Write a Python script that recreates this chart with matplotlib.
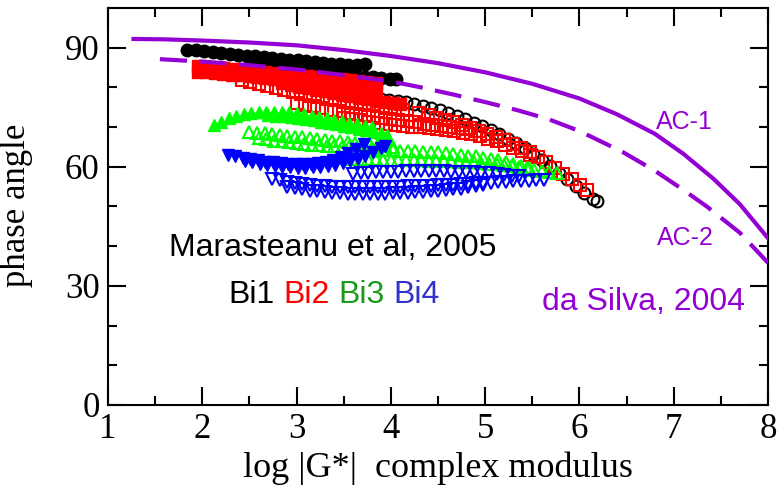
import numpy as np
import matplotlib.pyplot as plt
from matplotlib.ticker import MultipleLocator

# ---- da Silva 2004 model curves ----
ac1_x = [1.27, 1.6, 2.0, 2.5, 3.0, 3.5, 4.0, 4.5, 5.0, 5.5, 6.0, 6.4, 6.8,
         7.1, 7.42, 7.7, 8.0]
ac1_y = [92.2, 92.1, 91.8, 91.3, 90.6, 89.4, 87.9, 86.1, 83.8, 80.9, 77.2,
         73.2, 68.3, 63.3, 57.0, 50.6, 42.0]
ac2_x = [1.55, 2.0, 2.5, 3.0, 3.5, 4.0, 4.3, 4.7, 5.0, 5.35, 5.67, 6.0, 6.46,
         6.8, 7.1, 7.35, 7.7, 8.0]
ac2_y = [87.1, 86.5, 85.6, 84.5, 83.1, 81.5, 80.1, 78.0, 76.3, 74.2, 72.0,
         69.0, 63.7, 59.0, 54.2, 50.0, 43.4, 35.8]

# ---- Bi1 (black circles) ----
bi1_fa_x = [1.84, 1.93, 2.02, 2.11, 2.20, 2.29, 2.38, 2.47, 2.56, 2.65, 2.74,
            2.83, 2.92, 3.01, 3.10, 3.19, 3.28, 3.37, 3.46, 3.55, 3.64, 3.73]
bi1_fa_y = [89.5, 89.3, 89.1, 88.9, 88.6, 88.4, 88.2, 88.0, 87.8, 87.6, 87.4,
            87.2, 87.0, 86.8, 86.6, 86.4, 86.2, 86.0, 85.8, 85.7, 85.7, 85.9]
bi1_fb_x = [2.55, 2.64, 2.73, 2.82, 2.91, 3.00, 3.09, 3.18, 3.27, 3.36, 3.45,
            3.54, 3.63, 3.72, 3.81, 3.90, 3.99, 4.05]
bi1_fb_y = [86.6, 86.3, 86.0, 85.7, 85.4, 85.1, 84.8, 84.5, 84.2, 83.9, 83.6,
            83.3, 83.0, 82.7, 82.5, 82.3, 82.1, 82.0]
bi1_o_x = [3.80, 3.89, 3.98, 4.07, 4.16, 4.25, 4.34, 4.43, 4.52, 4.61, 4.70,
           4.79, 4.88, 4.97, 5.06, 5.15, 5.24, 5.33, 5.42, 5.51, 5.60, 5.69,
           5.78, 5.87, 5.96, 6.05, 6.14, 6.19]
bi1_o_y = [77.5, 77.2, 76.9, 76.6, 76.2, 75.8, 75.3, 74.8, 74.2, 73.5, 72.8,
           72.0, 71.1, 70.2, 69.2, 68.2, 67.1, 66.0, 64.7, 63.3, 61.8, 60.2,
           58.5, 56.8, 55.1, 53.4, 52.0, 51.5]

# ---- Bi2 (red squares) ----
bi2_fa_x = [1.95, 2.04, 2.13, 2.22, 2.31, 2.40, 2.49, 2.58, 2.67, 2.76, 2.85,
            2.94, 3.03, 3.12, 3.21, 3.30, 3.39, 3.48, 3.57, 3.66, 3.75, 3.84]
bi2_fa_y = [85.3, 85.2, 85.0, 84.8, 84.6, 84.4, 84.2, 84.0, 83.8, 83.6, 83.4,
            83.2, 83.0, 82.8, 82.6, 82.4, 82.2, 82.0, 81.8, 81.6, 81.4, 81.2]
bi2_fb_x = [1.95, 2.04, 2.13, 2.22, 2.31, 2.40, 2.49, 2.58, 2.67, 2.76, 2.85,
            2.94, 3.03, 3.12, 3.21, 3.30, 3.39, 3.48, 3.57, 3.66, 3.75, 3.84]
bi2_fb_y = [84.0, 83.8, 83.6, 83.4, 83.2, 83.0, 82.8, 82.5, 82.3, 82.0, 81.8,
            81.5, 81.3, 81.0, 80.8, 80.5, 80.3, 80.1, 79.9, 79.7, 79.5, 79.3]
bi2_fc_x = [2.85, 2.94, 3.03, 3.12, 3.21, 3.30, 3.39, 3.48, 3.57, 3.66, 3.75,
            3.84, 3.93, 4.02, 4.10]
bi2_fc_y = [81.0, 80.6, 80.2, 79.8, 79.4, 79.0, 78.6, 78.2, 77.8, 77.4, 77.0,
            76.6, 76.3, 76.0, 75.8]
bi2_oa_x = [2.42, 2.51, 2.60, 2.69, 2.78, 2.87, 2.96, 3.05, 3.14, 3.23, 3.32,
            3.41, 3.50, 3.59, 3.68, 3.77, 3.86, 3.95, 4.04, 4.13]
bi2_oa_y = [81.9, 81.4, 80.8, 80.3, 79.8, 79.3, 78.8, 78.3, 77.9, 77.5, 77.1,
            76.7, 76.4, 76.1, 75.8, 75.5, 75.2, 74.9, 74.6, 74.3]
bi2_ob_x = [3.00, 3.09, 3.18, 3.27, 3.36, 3.45, 3.54, 3.63, 3.72, 3.81, 3.90,
            3.99, 4.08, 4.17, 4.26, 4.35, 4.44, 4.53, 4.62, 4.71, 4.80, 4.89]
bi2_ob_y = [76.0, 75.6, 75.2, 74.8, 74.4, 74.0, 73.6, 73.3, 73.0, 72.7, 72.4,
            72.1, 71.8, 71.5, 71.2, 70.9, 70.6, 70.3, 70.0, 69.7, 69.4, 69.1]
bi2_oc_x = [3.50, 3.59, 3.68, 3.77, 3.86, 3.95, 4.04, 4.13, 4.22, 4.31, 4.40,
            4.49, 4.58, 4.67, 4.76, 4.85, 4.94, 5.03, 5.12, 5.21, 5.30, 5.39, 5.48]
bi2_oc_y = [72.3, 72.0, 71.7, 71.4, 71.1, 70.8, 70.5, 70.3, 70.1, 69.9, 69.7,
            69.5, 69.3, 69.0, 68.6, 68.2, 67.7, 67.1, 66.4, 65.6, 64.8, 63.9, 63.0]
bi2_od_x = [4.30, 4.39, 4.48, 4.57, 4.66, 4.75, 4.84, 4.93, 5.02, 5.11, 5.20,
            5.29, 5.38, 5.47, 5.56, 5.65, 5.74, 5.83, 5.92, 6.01, 6.08]
bi2_od_y = [73.5, 73.0, 72.4, 71.8, 71.2, 70.5, 69.8, 69.1, 68.3, 67.5, 66.7,
            65.8, 64.8, 63.7, 62.5, 61.2, 59.8, 58.3, 56.8, 55.3, 54.2]

# ---- Bi3 (green up triangles) ----
bi3_fa_x = [2.12, 2.20, 2.28, 2.36, 2.44, 2.52, 2.60, 2.68, 2.76, 2.84, 2.92,
            3.00, 3.08, 3.16, 3.24, 3.32, 3.40, 3.48, 3.56, 3.64, 3.72, 3.80]
bi3_fa_y = [70.5, 71.4, 72.2, 72.8, 73.3, 73.6, 73.8, 73.9, 73.9, 73.8, 73.7,
            73.5, 73.2, 72.9, 72.6, 72.3, 71.9, 71.5, 71.1, 70.7, 70.3, 69.9]
bi3_fb_x = [2.70, 2.78, 2.86, 2.94, 3.02, 3.10, 3.18, 3.26, 3.34, 3.42, 3.50,
            3.58, 3.66, 3.74, 3.82, 3.90, 3.96]
bi3_fb_y = [73.0, 72.9, 72.7, 72.5, 72.3, 72.0, 71.7, 71.4, 71.1, 70.8, 70.4,
            70.0, 69.6, 69.2, 68.8, 68.4, 68.1]
bi3_oa_x = [2.50, 2.58, 2.66, 2.74, 2.82, 2.90, 2.98, 3.06, 3.14, 3.22, 3.30,
            3.38, 3.46, 3.54, 3.62, 3.70, 3.78, 3.86, 3.94, 4.02]
bi3_oa_y = [68.8, 68.6, 68.4, 68.2, 68.0, 67.8, 67.6, 67.4, 67.2, 67.0, 66.8,
            66.6, 66.4, 66.2, 66.0, 65.8, 65.6, 65.4, 65.2, 65.0]
bi3_ob_x = [2.60, 2.68, 2.76, 2.84, 2.92, 3.00, 3.08, 3.16, 3.24, 3.32, 3.40,
            3.48, 3.56, 3.64, 3.72, 3.80]
bi3_ob_y = [67.2, 66.9, 66.6, 66.4, 66.2, 66.0, 65.8, 65.6, 65.4, 65.3, 65.2,
            65.1, 65.0, 64.9, 64.8, 64.7]
bi3_oc_x = [3.70, 3.78, 3.86, 3.94, 4.02, 4.10, 4.18, 4.26, 4.34, 4.42, 4.50,
            4.58, 4.66, 4.74, 4.82, 4.90, 4.98, 5.06, 5.14, 5.22, 5.30, 5.38, 5.46]
bi3_oc_y = [64.0, 64.1, 64.2, 64.2, 64.2, 64.1, 64.0, 63.9, 63.8, 63.7, 63.6,
            63.4, 63.2, 63.0, 62.8, 62.6, 62.3, 62.0, 61.6, 61.2, 60.7, 60.2, 59.7]
bi3_od_x = [3.60, 3.68, 3.76, 3.84, 3.92, 4.00, 4.08, 4.16, 4.24, 4.32, 4.40,
            4.48, 4.56, 4.64, 4.72, 4.80, 4.88, 4.96, 5.04, 5.12, 5.20, 5.28,
            5.36, 5.44, 5.52, 5.60, 5.68, 5.76]
bi3_od_y = [62.0, 62.0, 61.9, 61.9, 61.8, 61.8, 61.7, 61.7, 61.6, 61.6, 61.5,
            61.5, 61.4, 61.4, 61.3, 61.2, 61.1, 61.0, 60.8, 60.6, 60.4, 60.2,
            59.9, 59.6, 59.3, 59.0, 58.7, 58.4]

# ---- Bi4 (blue down triangles) ----
bi4_fa_x = [2.27, 2.35, 2.43, 2.51, 2.59, 2.67, 2.75, 2.83, 2.91, 2.99, 3.07,
            3.15, 3.23, 3.31, 3.39, 3.47, 3.55, 3.63, 3.71]
bi4_fa_y = [63.0, 62.6, 62.2, 61.9, 61.6, 61.3, 61.1, 60.9, 60.8, 60.7, 60.7,
            60.8, 61.0, 61.3, 61.8, 62.5, 63.4, 64.5, 65.8]
bi4_fb_x = [2.45, 2.53, 2.61, 2.69, 2.77, 2.85, 2.93, 3.01, 3.09, 3.17, 3.25,
            3.33, 3.41, 3.49, 3.57, 3.65, 3.73, 3.81, 3.89, 3.94]
bi4_fb_y = [61.5, 61.1, 60.7, 60.4, 60.2, 60.0, 59.9, 59.8, 59.8, 59.9, 60.0,
            60.2, 60.5, 60.9, 61.4, 62.0, 62.8, 63.7, 64.7, 65.3]
bi4_oa_x = [3.60, 3.68, 3.76, 3.84, 3.92, 4.00, 4.08, 4.16, 4.24, 4.32, 4.40,
            4.48, 4.56, 4.64, 4.72, 4.80, 4.88, 4.96, 5.04, 5.12, 5.20, 5.28, 5.36]
bi4_oa_y = [58.2, 58.4, 58.5, 58.6, 58.7, 58.8, 58.8, 58.9, 58.9, 58.9, 58.9,
            58.9, 58.9, 58.8, 58.8, 58.7, 58.6, 58.5, 58.4, 58.2, 58.0, 57.8, 57.6]
bi4_ob_x = [2.74, 2.82, 2.90, 2.98, 3.06, 3.14, 3.22, 3.30, 3.38, 3.46, 3.54,
            3.62, 3.70, 3.78, 3.86, 3.94, 4.02, 4.10, 4.18, 4.26, 4.34, 4.42,
            4.50, 4.58, 4.66, 4.74, 4.82, 4.90, 4.98, 5.06, 5.14, 5.22, 5.30,
            5.38, 5.46, 5.54, 5.62]
bi4_ob_y = [57.0, 56.6, 56.2, 55.9, 55.6, 55.4, 55.2, 55.1, 55.0, 55.0, 55.0,
            55.0, 55.0, 55.0, 55.0, 55.0, 55.0, 55.0, 55.1, 55.1, 55.2, 55.2,
            55.3, 55.4, 55.5, 55.6, 55.7, 55.8, 55.9, 56.0, 56.1, 56.2, 56.3,
            56.4, 56.5, 56.6, 56.7]
bi4_oc_x = [2.90, 2.98, 3.06, 3.14, 3.22, 3.30, 3.38, 3.46, 3.54, 3.62, 3.70,
            3.78, 3.86, 3.94, 4.02, 4.10, 4.18, 4.26, 4.34, 4.42, 4.50, 4.58,
            4.66, 4.74, 4.82, 4.90, 4.98]
bi4_oc_y = [55.0, 54.6, 54.3, 54.0, 53.8, 53.6, 53.4, 53.3, 53.2, 53.1, 53.1,
            53.1, 53.2, 53.2, 53.3, 53.4, 53.5, 53.6, 53.7, 53.8, 53.9, 54.1,
            54.3, 54.5, 54.8, 55.1, 55.4]

purple = '#9400D3'
green_m = '#00FF00'
blue_m = '#0000FF'

fig = plt.figure(figsize=(7.8, 4.93), dpi=100)
ax = fig.add_axes([0.1385, 0.1785, 0.8462, 0.8053])

def filled(x, y, mk, col, ms):
    ax.plot(x, y, linestyle='none', marker=mk, markersize=ms, color=col,
            markeredgecolor=col)

def hollow(x, y, mk, col, ms):
    ax.plot(x, y, linestyle='none', marker=mk, markersize=ms, color=col,
            markerfacecolor='none', markeredgecolor=col, markeredgewidth=1.5)

# Bi1
filled(bi1_fb_x, bi1_fb_y, 'o', 'black', 9)
filled(bi1_fa_x, bi1_fa_y, 'o', 'black', 9)
hollow(bi1_o_x, bi1_o_y, 'o', 'black', 8.5)
# Bi2
for xs, ys in [(bi2_oa_x, bi2_oa_y), (bi2_ob_x, bi2_ob_y),
               (bi2_oc_x, bi2_oc_y), (bi2_od_x, bi2_od_y)]:
    hollow(xs, ys, 's', 'red', 8)
for xs, ys in [(bi2_fa_x, bi2_fa_y), (bi2_fb_x, bi2_fb_y), (bi2_fc_x, bi2_fc_y)]:
    filled(xs, ys, 's', 'red', 8)
# Bi3
for xs, ys in [(bi3_oa_x, bi3_oa_y), (bi3_ob_x, bi3_ob_y),
               (bi3_oc_x, bi3_oc_y), (bi3_od_x, bi3_od_y)]:
    hollow(xs, ys, '^', green_m, 9)
for xs, ys in [(bi3_fa_x, bi3_fa_y), (bi3_fb_x, bi3_fb_y)]:
    filled(xs, ys, '^', green_m, 9)
# Bi4
for xs, ys in [(bi4_oa_x, bi4_oa_y), (bi4_ob_x, bi4_ob_y), (bi4_oc_x, bi4_oc_y)]:
    hollow(xs, ys, 'v', blue_m, 9)
for xs, ys in [(bi4_fa_x, bi4_fa_y), (bi4_fb_x, bi4_fb_y)]:
    filled(xs, ys, 'v', blue_m, 9)

# model curves on top
ax.plot(ac1_x, ac1_y, color=purple, linewidth=3, zorder=5)
ax.plot(ac2_x, ac2_y, color=purple, linewidth=3, dashes=(6.5, 3), zorder=5)

ax.set_xlim(1, 8)
ax.set_ylim(0, 100)
ax.xaxis.set_major_locator(MultipleLocator(1))
ax.xaxis.set_minor_locator(MultipleLocator(0.5))
ax.yaxis.set_major_locator(MultipleLocator(30))
ax.yaxis.set_minor_locator(MultipleLocator(10))
ax.tick_params(which='both', direction='in', top=True, right=True, width=1.5)
ax.tick_params(which='major', length=13, pad=6)
ax.tick_params(which='minor', length=6.5)
for lab in ax.get_xticklabels() + ax.get_yticklabels():
    lab.set_fontfamily('Liberation Serif')
    lab.set_fontsize(25)
for sp in ax.spines.values():
    sp.set_linewidth(1.5)

ax.set_xlabel('log |G*|  complex modulus', fontfamily='Liberation Serif', fontsize=26)
ax.set_ylabel('phase angle', fontfamily='Liberation Serif', fontsize=25)
ax.xaxis.set_label_coords(0.5, -0.118)
ax.yaxis.set_label_coords(-0.114, 0.504)

sans = 'Liberation Sans'
ax.text(3.38, 39.5, 'Marasteanu et al, 2005', fontfamily=sans, fontsize=23,
        ha='center', va='center', color='black')
ax.text(2.28, 27.7, 'Bi1', fontfamily=sans, fontsize=23, va='center', color='black')
ax.text(2.86, 27.7, 'Bi2', fontfamily=sans, fontsize=23, va='center', color='#FF0000')
ax.text(3.44, 27.7, 'Bi3', fontfamily=sans, fontsize=23, va='center', color='#1A9A1A')
ax.text(4.03, 27.7, 'Bi4', fontfamily=sans, fontsize=23, va='center', color='#3333CC')
ax.text(7.11, 71.3, 'AC-1', fontfamily=sans, fontsize=18, ha='center', va='center', color=purple)
ax.text(7.12, 42.0, 'AC-2', fontfamily=sans, fontsize=18, ha='center', va='center', color=purple)
ax.text(6.68, 26.0, 'da Silva, 2004', fontfamily=sans, fontsize=23, ha='center', va='center', color=purple)

fig.savefig('out.png', dpi=100)
